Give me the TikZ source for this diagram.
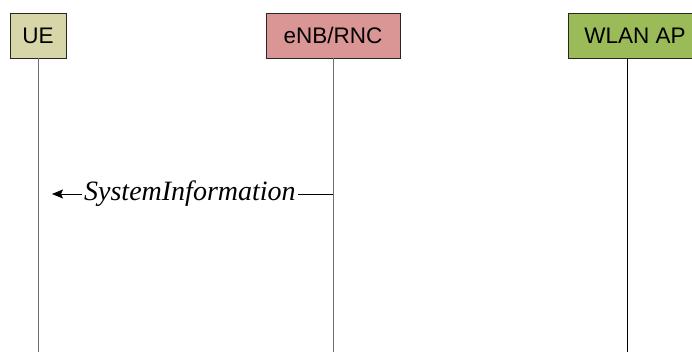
\documentclass[tikz,border=0pt]{standalone}
\usepackage{fontspec}
\setmainfont{Liberation Serif}
\newfontfamily\boxfont{Liberation Sans}
\usetikzlibrary{arrows.meta}
\definecolor{uefill}{RGB}{214,214,168}
\definecolor{enbfill}{RGB}{217,150,148}
\definecolor{wlanfill}{RGB}{155,187,89}
\definecolor{lifegray}{RGB}{110,110,110}
\tikzset{
  entity/.style={draw=black!85, line width=0.8pt, minimum height=45pt, inner sep=0pt, anchor=north, font=\boxfont\fontsize{22.5}{22.5}\selectfont},
  lifeline/.style={draw=lifegray, line width=1pt},
  msg/.style={draw=black, line width=0.8pt, -{Stealth[length=11pt,width=9pt,inset=2pt]}},
  msglabel/.style={fill=white, inner sep=2pt, font=\itshape\fontsize{28}{28}\selectfont}
}
\begin{document}
\begin{tikzpicture}[x=1pt,y=-1pt]
\useasboundingbox (0,0) rectangle (692,352);
\clip (0,0) rectangle (692,352);
\node[entity, fill=uefill, minimum width=56pt] (ue) at (38,13) {UE};
\node[entity, fill=enbfill, minimum width=134pt] (enb) at (333,13) {eNB/RNC};
\node[entity, fill=wlanfill, minimum width=134pt] (wlan) at (635,13) {WLAN AP};
\coordinate (uet) at (38,58);
\coordinate (enbt) at (333,58);
\coordinate (wlant) at (627,58);
\coordinate (ueb) at (38,352);
\coordinate (enbb) at (333,352);
\coordinate (wlanb) at (627,352);
\draw[lifeline] (uet) -- (ueb);
\draw[lifeline] (enbt) -- (enbb);
\draw[lifeline, draw=black] (wlant) -- (wlanb);
\coordinate (m1e) at (333,194);
\coordinate (m1u) at (38,194);
\draw[msg, shorten >=14pt] (m1e) -- node[msglabel, pos=0.485] {SystemInformation} (m1u);
\end{tikzpicture}
\end{document}
